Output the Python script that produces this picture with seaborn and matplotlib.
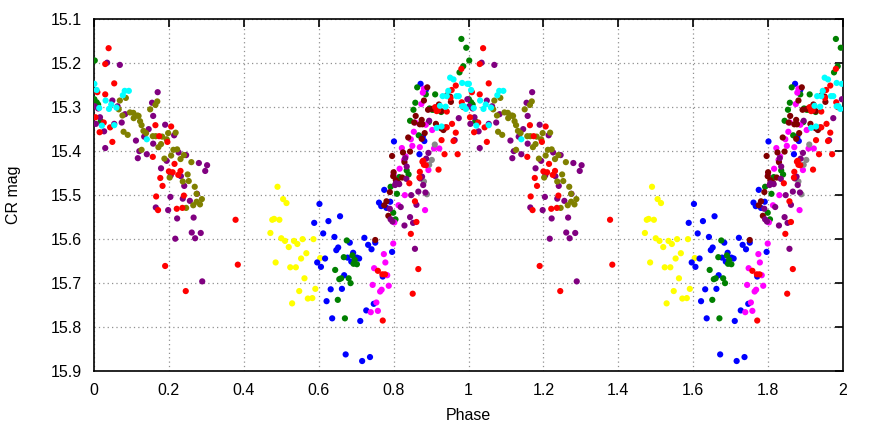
import numpy as np
import pandas as pd
import matplotlib
matplotlib.use("Agg")
import matplotlib.pyplot as plt
import seaborn as sns

# ---- data (phase in [0,1), plotted at phase and phase+1) ----
yellow_phase = [0.490, 0.505, 0.514, 0.476, 0.481, 0.495, 0.471, 0.500, 0.510, 0.520, 0.534, 0.543, 0.557,
                0.567, 0.553, 0.485, 0.524, 0.539, 0.562, 0.548, 0.571, 0.583, 0.529, 0.586, 0.604, 0.591]
yellow_mag = [15.482, 15.510, 15.519, 15.557, 15.555, 15.557, 15.587, 15.599, 15.605, 15.619, 15.605, 15.612, 15.601,
              15.633, 15.645, 15.654, 15.665, 15.665, 15.690, 15.719, 15.736, 15.735, 15.747, 15.601, 15.644, 15.714]

blue_phase = [0.602, 0.588, 0.626, 0.657, 0.612, 0.642, 0.652, 0.647, 0.617, 0.596, 0.606, 0.668, 0.632, 0.662,
              0.621, 0.636, 0.711, 0.672, 0.716, 0.737, 0.683, 0.722, 0.732, 0.741, 0.751, 0.692, 0.677, 0.687,
              0.702, 0.708, 0.771, 0.796, 0.775, 0.761, 0.767, 0.791, 0.747, 0.727, 0.801, 0.882, 0.869, 0.878,
              0.781, 0.872, 0.886]
blue_mag = [15.521, 15.564, 15.560, 15.549, 15.588, 15.596, 15.620, 15.626, 15.645, 15.654, 15.664, 15.683, 15.715,
            15.714, 15.742, 15.781, 15.787, 15.863, 15.878, 15.869, 15.609, 15.598, 15.614, 15.624, 15.609, 15.632,
            15.643, 15.652, 15.643, 15.645, 15.686, 15.630, 15.489, 15.518, 15.526, 15.516, 15.748, 15.763, 15.379,
            15.378, 15.408, 15.368, 15.530, 15.248, 15.262]

green_phase = [0.002, 0.007, 0.011, 0.018, 0.001, 0.675, 0.690, 0.667, 0.696, 0.693, 0.702, 0.644, 0.655, 0.660,
               0.680, 0.685, 0.651, 0.670, 0.809, 0.799, 0.805, 0.981, 0.994, 0.986, 0.976, 0.863, 0.886, 0.858,
               0.853, 0.896, 0.903, 0.908, 0.927, 0.844, 0.894, 0.867, 0.835, 0.815, 0.840, 0.792, 0.911]
green_mag = [15.195, 15.290, 15.295, 15.333, 15.283, 15.604, 15.638, 15.642, 15.648, 15.657, 15.658, 15.671, 15.692,
             15.690, 15.690, 15.701, 15.739, 15.781, 15.498, 15.541, 15.556, 15.146, 15.166, 15.208, 15.222, 15.256,
             15.272, 15.291, 15.307, 15.304, 15.307, 15.307, 15.312, 15.332, 15.335, 15.365, 15.445, 15.460, 15.454,
             15.482, 15.272]

magenta_phase = [0.799, 0.774, 0.778, 0.748, 0.783, 0.744, 0.768, 0.764, 0.787, 0.754, 0.739, 0.758, 0.816, 0.830,
                 0.884, 0.813, 0.802, 0.908, 0.922, 0.886, 0.903, 0.893, 0.881, 0.878, 0.874, 0.858, 0.854, 0.846,
                 0.850, 0.870, 0.822, 0.832, 0.828, 0.800]
magenta_mag = [15.611, 15.635, 15.654, 15.667, 15.683, 15.705, 15.716, 15.720, 15.707, 15.745, 15.767, 15.764,
               15.441, 15.501, 15.535, 15.524, 15.563, 15.395, 15.395, 15.341, 15.353, 15.444, 15.259, 15.268,
               15.294, 15.336, 15.357, 15.374, 15.389, 15.392, 15.394, 15.413, 15.421, 15.454]

maroon_phase = [0.751, 0.781, 0.775, 0.800, 0.790, 0.806, 0.829, 0.799, 0.813, 0.890, 0.881, 0.951, 0.953, 0.943,
                0.921, 0.927, 0.913, 0.927, 0.933, 0.939, 0.883, 0.875, 0.892, 0.903, 0.859, 0.855, 0.870, 0.877,
                0.839, 0.825, 0.844, 0.796, 0.823, 0.786, 0.875]
maroon_mag = [15.603, 15.515, 15.524, 15.449, 15.494, 15.467, 15.426, 15.458, 15.473, 15.256, 15.286, 15.277,
              15.289, 15.274, 15.295, 15.310, 15.339, 15.349, 15.353, 15.347, 15.360, 15.373, 15.307, 15.305,
              15.321, 15.336, 15.340, 15.340, 15.370, 15.404, 15.402, 15.412, 15.461, 15.548, 15.330]

gray_phase = [0.881, 0.889, 0.910, 0.902, 0.895]
gray_mag = [15.470, 15.499, 15.386, 15.421, 15.432]

purple_phase = [0.035, 0.069, 0.170, 0.155, 0.049, 0.011, 0.063, 0.002, 0.016, 0.005, 0.027, 0.054, 0.074, 0.083,
                0.158, 0.190, 0.146, 0.214, 0.112, 0.134, 0.158, 0.121, 0.141, 0.117, 0.030, 0.194, 0.246, 0.226,
                0.179, 0.280, 0.302, 0.297, 0.205, 0.232, 0.241, 0.204, 0.237, 0.256, 0.275, 0.165, 0.198, 0.222,
                0.266, 0.261, 0.285, 0.270, 0.217, 0.289,
                0.790, 0.797, 0.829, 0.852, 0.857, 0.819, 0.847, 0.866, 0.885, 0.876, 0.871, 0.806, 0.815, 0.974,
                0.963, 0.893, 0.879, 0.861, 0.792, 0.844, 0.804, 0.831, 0.835, 0.834, 0.997, 0.895, 0.887]
purple_mag = [15.200, 15.205, 15.267, 15.291, 15.286, 15.304, 15.299, 15.299, 15.324, 15.339, 15.356, 15.339,
              15.336, 15.317, 15.321, 15.341, 15.351, 15.365, 15.377, 15.368, 15.384, 15.401, 15.408, 15.417,
              15.394, 15.423, 15.410, 15.404, 15.440, 15.428, 15.433, 15.446, 15.456, 15.458, 15.480, 15.505,
              15.509, 15.514, 15.498, 15.529, 15.535, 15.554, 15.552, 15.586, 15.587, 15.599, 15.600, 15.697,
              15.532, 15.561, 15.570, 15.564, 15.623, 15.528, 15.501, 15.493, 15.495, 15.459, 15.463, 15.474,
              15.476, 15.326, 15.376, 15.405, 15.478, 15.523, 15.556, 15.551, 15.478, 15.417, 15.436, 15.464,
              15.283, 15.332, 15.418]

olive_phase = [0.169, 0.164, 0.150, 0.085, 0.069, 0.066, 0.076, 0.096, 0.105, 0.116, 0.119, 0.106, 0.123, 0.127,
               0.132, 0.139, 0.157, 0.165, 0.182, 0.194, 0.218, 0.198, 0.179, 0.172, 0.127, 0.212, 0.222, 0.206,
               0.231, 0.240, 0.188, 0.260, 0.250, 0.202, 0.237, 0.253, 0.269, 0.274, 0.288, 0.274, 0.283, 0.265,
               0.246, 0.079, 0.090]
olive_mag = [15.288, 15.296, 15.306, 15.280, 15.286, 15.306, 15.320, 15.313, 15.314, 15.320, 15.321, 15.326,
             15.333, 15.342, 15.355, 15.360, 15.367, 15.367, 15.368, 15.374, 15.359, 15.360, 15.385, 15.392,
             15.398, 15.398, 15.397, 15.411, 15.419, 15.410, 15.418, 15.426, 15.454, 15.461, 15.470, 15.469,
             15.482, 15.498, 15.510, 15.516, 15.522, 15.524, 15.530, 15.357, 15.364]

red_phase = [0.039, 0.030, 0.054, 0.009, 0.030, 0.004, 0.026, 0.015, 0.043, 0.049, 0.164, 0.174, 0.206, 0.196,
             0.157, 0.215, 0.200, 0.210, 0.225, 0.231, 0.177, 0.183, 0.166, 0.171, 0.221, 0.236, 0.240, 0.190,
             0.245, 0.378, 0.384, 0.758, 0.770, 0.777, 0.851, 0.771, 0.866, 0.846, 0.857, 0.861, 0.842, 0.870,
             0.879, 0.881, 0.886, 0.877, 0.869, 0.981, 0.966, 0.955, 0.982, 0.986, 0.919, 0.911, 0.942, 0.956,
             0.966, 0.960, 0.936, 0.971, 0.920, 0.942, 0.915, 0.928, 0.952]
red_mag = [15.167, 15.203, 15.247, 15.267, 15.272, 15.324, 15.336, 15.358, 15.347, 15.380, 15.342, 15.367,
           15.345, 15.380, 15.414, 15.430, 15.447, 15.449, 15.455, 15.446, 15.462, 15.480, 15.504, 15.535,
           15.532, 15.530, 15.502, 15.662, 15.719, 15.557, 15.659, 15.673, 15.681, 15.681, 15.725, 15.786,
           15.669, 15.589, 15.515, 15.562, 15.474, 15.448, 15.423, 15.432, 15.433, 15.425, 15.461, 15.214,
           15.252, 15.262, 15.290, 15.301, 15.308, 15.301, 15.347, 15.339, 15.359, 15.378, 15.408, 15.408,
           15.443, 15.311, 15.310, 15.376, 15.280]

cyan_phase = [0.001, 0.007, 0.082, 0.093, 0.077, 0.031, 0.046, 0.014, 0.040, 0.060, 0.021, 0.054, 0.141,
              0.951, 0.960, 0.983, 0.997, 0.946, 0.931, 0.942, 0.968, 0.974, 0.983, 0.988, 0.993, 0.924, 0.939,
              0.915, 0.928]
cyan_mag = [15.248, 15.262, 15.264, 15.264, 15.274, 15.286, 15.295, 15.303, 15.305, 15.302, 15.343, 15.342,
            15.374, 15.234, 15.238, 15.246, 15.248, 15.264, 15.276, 15.276, 15.276, 15.276, 15.299, 15.299,
            15.305, 15.298, 15.300, 15.348, 15.345]

series = [
    ("yellow", yellow_phase, yellow_mag, "#ffff00"),
    ("blue", blue_phase, blue_mag, "#0000ff"),
    ("green", green_phase, green_mag, "#008000"),
    ("magenta", magenta_phase, magenta_mag, "#ff00ff"),
    ("maroon", maroon_phase, maroon_mag, "#800000"),
    ("gray", gray_phase, gray_mag, "#888888"),
    ("purple", purple_phase, purple_mag, "#800080"),
    ("olive", olive_phase, olive_mag, "#808000"),
    ("red", red_phase, red_mag, "#ff0000"),
    ("cyan", cyan_phase, cyan_mag, "#00ffff"),
]

frames = []
for name, ph, mg, col in series:
    ph = np.asarray(ph)
    mg = np.asarray(mg)
    frames.append(pd.DataFrame({"phase": np.concatenate([ph, ph + 1]),
                                "mag": np.concatenate([mg, mg]),
                                "set": name}))
df = pd.concat(frames, ignore_index=True)
palette = {name: col for name, _, _, col in series}

sns.set_style("white")
plt.rcParams['font.family'] = ['Liberation Sans', 'DejaVu Sans']
plt.rcParams['text.color'] = 'black'
plt.rcParams['axes.labelcolor'] = 'black'

fig = plt.figure(figsize=(8.72, 4.26), dpi=100)
ax = fig.add_axes([94 / 872, 1 - 370.7 / 426, (843 - 94) / 872, (370.7 - 18.7) / 426])
sns.scatterplot(data=df, x="phase", y="mag", hue="set", palette=palette, s=20,
                linewidth=0, legend=False, ax=ax, zorder=3)

ax.set_xlim(0, 2)
ax.set_ylim(15.9, 15.1)
xt = [0, 0.2, 0.4, 0.6, 0.8, 1, 1.2, 1.4, 1.6, 1.8, 2]
ax.set_xticks(xt)
ax.set_xticklabels([f"{v:g}" for v in xt])
yt = [15.1, 15.2, 15.3, 15.4, 15.5, 15.6, 15.7, 15.8, 15.9]
ax.set_yticks(yt)
ax.set_yticklabels([f"{v:.1f}" for v in yt])
ax.grid(True, color="#909090", linestyle=(0, (1, 2.5)), linewidth=0.9, zorder=0)
ax.tick_params(direction="in", length=6, width=1.2, top=True, right=True, labelsize=11.5,
               colors="black", pad=9)
for sp in ax.spines.values():
    sp.set_color("black")
    sp.set_linewidth(1.2)
ax.set_xlabel("Phase", fontsize=11.5, labelpad=7, color="black")
ax.set_ylabel("CR mag", fontsize=11.5, labelpad=21, color="black")

fig.savefig("out.png", dpi=100)
